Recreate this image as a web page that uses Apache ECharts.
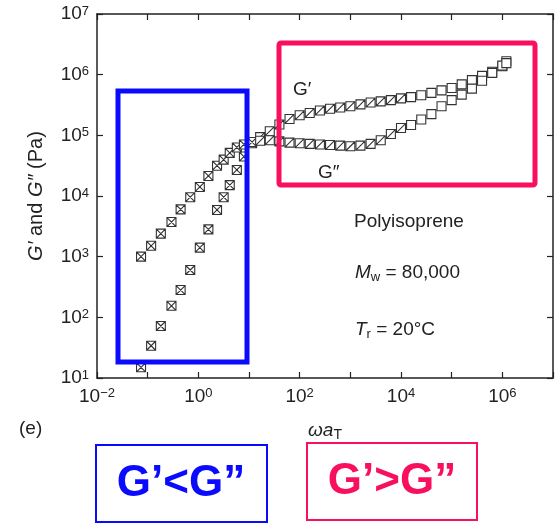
<!DOCTYPE html>
<html>
<head>
<meta charset="utf-8">
<script src="https://cdn.jsdelivr.net/npm/echarts@6/dist/echarts.min.js"></script>
<style>
html, body { margin: 0; padding: 0; background: #fff; }
#main { width: 557px; height: 524px; }
</style>
</head>
<body>
<div id="main"></div>
<script>
// reduced frequency (omega aT)
var freq = [0.074, 0.117, 0.182, 0.295, 0.447, 0.692, 1.07, 1.58, 2.34, 3.16, 4.17, 5.75, 7.94, 11.5, 16.6, 25.7, 39.8, 63.1,
    100, 158, 251, 398, 631, 1000, 1585, 2512, 3981, 6310, 1e4, 1.58e4, 2.51e4, 3.98e4, 6.31e4, 1e5, 1.58e5, 2.51e5, 3.98e5, 6.31e5, 1e6, 1.2e6];
// storage modulus G' (Pa)
var gStore = [15, 34, 72, 155, 282, 603, 1410, 2820, 5890, 9550, 15100, 26900, 44700, 74100, 93300, 117000, 151000, 186000,
    214000, 234000, 257000, 275000, 288000, 302000, 324000, 347000, 363000, 380000, 407000, 427000, 457000, 501000, 550000, 603000, 692000, 813000, 955000, 1120000, 1380000, 1660000];
// loss modulus G'' (Pa)
var gLoss = [1000, 1510, 2400, 3720, 6030, 9550, 14100, 21400, 31600, 39800, 51300, 63100, 70800, 77600, 81300, 83200, 79400, 75900,
    74100, 72400, 70800, 69200, 67600, 66100, 67600, 72400, 83200, 105000, 132000, 148000, 182000, 224000, 302000, 380000, 468000, 589000, 794000, 1070000, 1410000, 1550000];

function powLabel(v, showOdd) {
    var e = Math.round(Math.log10(v));
    if (!showOdd && e % 2 !== 0) return '';
    var s = String(e).replace('-', '\u2212');
    return '{b|10}{s|' + s + '}';
}
var labelRich = {
    b: { fontSize: 19, fontFamily: 'Liberation Sans', color: '#222' },
    s: { fontSize: 13, fontFamily: 'Liberation Sans', color: '#222', verticalAlign: 'top' }
};

var crossed = 'path://M0,0H10V10H0Z M0,0L10,10 M10,0L0,10';
var slashed = 'path://M0,0H10V10H0Z M0,10L10,0';
function markFor(value) {
    var x = value[0];
    if (x < 12) return crossed;
    if (x < 1.2e4) return slashed;
    return 'rect';
}

function pairs(ys) {
    return freq.map(function (f, i) { return [f, ys[i]]; });
}

var chart = echarts.init(document.getElementById('main'));

var axisLineStyle = { color: '#222', width: 1.5 };
var tickStyle = { inside: true, length: 6, lineStyle: { color: '#222', width: 1.2 } };
var noteRich = {
    i: { fontSize: 19, fontStyle: 'italic', fontFamily: 'Liberation Sans', fill: '#222' },
    sub: { fontSize: 13, fontFamily: 'Liberation Sans', fill: '#222', padding: [9, 0, 0, 0] },
    n: { fontSize: 19, fontFamily: 'Liberation Sans', fill: '#222' }
};

chart.setOption({
    animation: false,
    grid: { left: 97, right: 4, top: 14, bottom: 146 },
    xAxis: [{
        type: 'log', logBase: 10, min: 0.01, max: 1e7,
        name: '{i|\u03c9a}{sub|T}', nameLocation: 'middle', nameGap: 41,
        nameTextStyle: {
            rich: {
                i: { fontSize: 19, fontStyle: 'italic', fontFamily: 'Liberation Sans', color: '#222' },
                sub: { fontSize: 14, fontFamily: 'Liberation Sans', color: '#222', padding: [9, 0, 0, 0] }
            }
        },
        axisLine: { lineStyle: axisLineStyle },
        axisTick: tickStyle,
        splitLine: { show: false },
        axisLabel: { margin: 9, formatter: function (v) { return powLabel(v, false); }, rich: labelRich }
    }, {
        type: 'log', logBase: 10, min: 0.01, max: 1e7, position: 'top',
        axisLine: { lineStyle: axisLineStyle },
        axisTick: tickStyle,
        splitLine: { show: false },
        axisLabel: { show: false }
    }],
    yAxis: [{
        type: 'log', logBase: 10, min: 10, max: 1e7,
        name: '{i|G\u2032}{n| and }{i|G\u2033}{n| (Pa)}', nameLocation: 'middle', nameGap: 51, nameRotate: 90,
        nameTextStyle: {
            rich: {
                i: { fontSize: 20, fontStyle: 'italic', fontFamily: 'Liberation Sans', color: '#222' },
                n: { fontSize: 20, fontFamily: 'Liberation Sans', color: '#222' }
            }
        },
        axisLine: { lineStyle: axisLineStyle },
        axisTick: tickStyle,
        splitLine: { show: false },
        axisLabel: { margin: 8, formatter: function (v) { return powLabel(v, true); }, rich: labelRich }
    }, {
        type: 'log', logBase: 10, min: 10, max: 1e7, position: 'right',
        axisLine: { lineStyle: axisLineStyle },
        axisTick: tickStyle,
        splitLine: { show: false },
        axisLabel: { show: false }
    }],
    series: [{
        name: "G'", type: 'scatter', data: pairs(gStore),
        symbol: markFor, symbolSize: 9,
        itemStyle: { color: '#fff', borderColor: '#333', borderWidth: 1.1, opacity: 1 }
    }, {
        name: "G''", type: 'scatter', data: pairs(gLoss),
        symbol: markFor, symbolSize: 9,
        itemStyle: { color: '#fff', borderColor: '#333', borderWidth: 1.1, opacity: 1 }
    }],
    graphic: [
        { type: 'rect', shape: { x: 118, y: 91, width: 129, height: 271 }, style: { fill: 'none', stroke: '#0a0aff', lineWidth: 5 }, z: 10 },
        { type: 'rect', shape: { x: 279, y: 43, width: 256, height: 142, r: 2 }, style: { fill: 'none', stroke: '#f8105f', lineWidth: 5 }, z: 10 },
        { type: 'text', x: 293, y: 80, style: { text: 'G\u2032', font: '19px "Liberation Sans"', fill: '#222' } },
        { type: 'text', x: 318, y: 163, style: { text: 'G\u2033', font: '19px "Liberation Sans"', fill: '#222' } },
        { type: 'text', x: 409, y: 222, style: { text: 'Polyisoprene', font: '19px "Liberation Sans"', fill: '#222', align: 'center', verticalAlign: 'middle' } },
        { type: 'text', x: 355, y: 273, style: { text: '{i|M}{sub|w}{n| = 80,000}', verticalAlign: 'middle', rich: noteRich } },
        { type: 'text', x: 355, y: 330, style: { text: '{i|T}{sub|r}{n| = 20\u00b0C}', verticalAlign: 'middle', rich: noteRich } },
        { type: 'text', x: 19, y: 429, style: { text: '(e)', font: '19px "Liberation Sans"', fill: '#222', verticalAlign: 'middle' } },
        { type: 'rect', shape: { x: 96, y: 445, width: 171, height: 77 }, style: { fill: 'none', stroke: '#0a0aff', lineWidth: 2 } },
        { type: 'text', x: 181, y: 484, style: { text: 'G\u2019<G\u201d', font: 'bold 44px "Liberation Sans"', fill: '#0a0aff', align: 'center', verticalAlign: 'middle' } },
        { type: 'rect', shape: { x: 307, y: 443, width: 170, height: 77 }, style: { fill: 'none', stroke: '#f8105f', lineWidth: 2 } },
        { type: 'text', x: 392, y: 482, style: { text: 'G\u2019>G\u201d', font: 'bold 44px "Liberation Sans"', fill: '#f8105f', align: 'center', verticalAlign: 'middle' } }
    ]
});
</script>
</body>
</html>
